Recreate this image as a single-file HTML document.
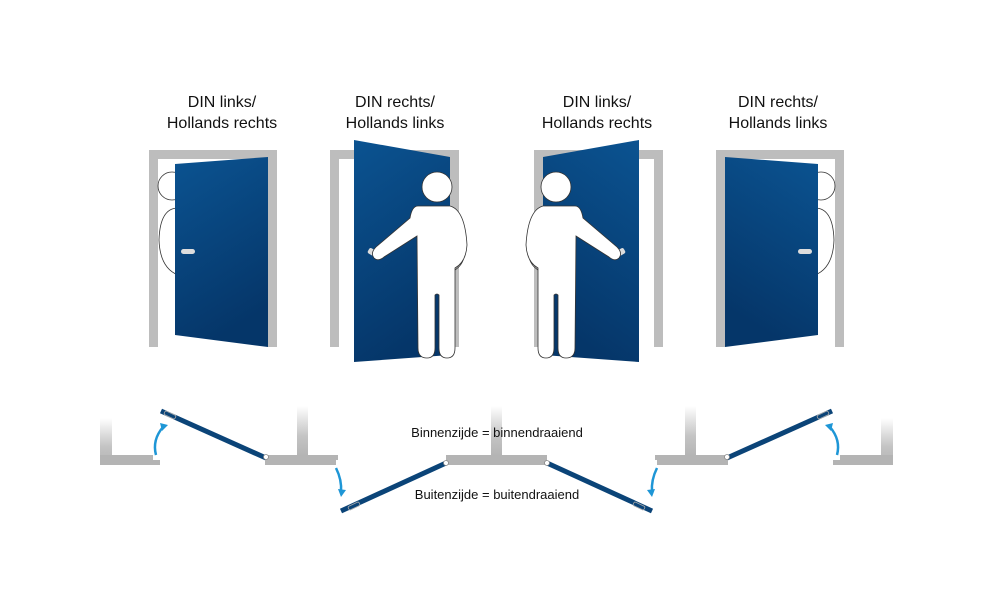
<!DOCTYPE html>
<html><head><meta charset="utf-8"><style>
html,body{margin:0;padding:0;background:#fff;}
svg{display:block;}
text{font-family:"Liberation Sans",sans-serif;fill:#111;}
</style></head><body>
<svg width="992" height="595" viewBox="0 0 992 595" xmlns="http://www.w3.org/2000/svg">
<defs>
<linearGradient id="dg" x1="0" y1="0" x2="0.3" y2="1">
<stop offset="0" stop-color="#0b5391"/><stop offset="1" stop-color="#053669"/>
</linearGradient>
<linearGradient id="wv" x1="0" y1="0" x2="0" y2="1">
<stop offset="0" stop-color="#fff"/><stop offset="0.6" stop-color="#c4c4c4"/><stop offset="1" stop-color="#b4b4b4"/>
</linearGradient>
<g id="half">
<!-- door 1 -->
<path d="M149,150 H277 V347 H268 V159 H158 V347 H149 Z" fill="#bdbdbd"/>
<circle cx="172" cy="186" r="14" fill="#fff" stroke="#333" stroke-width="0.8"/>
<path d="M178,208 Q160,208 159,240 Q160,268 178,275" fill="#fff" stroke="#333" stroke-width="0.8"/>
<polygon points="175,164 268,157 268,347 175,335" fill="url(#dg)"/>
<rect x="181" y="249" width="14" height="5" rx="2.5" fill="#ddd"/>
<!-- door 2 -->
<path d="M330,150 H459 V347 H450 V159 H339 V347 H330 Z" fill="#bdbdbd"/>
<path d="M460,240 Q470,260 455,270" fill="none" stroke="#333" stroke-width="0.8"/>
<polygon points="354,140 450,157 450,355 354,362" fill="url(#dg)"/>
<rect x="368" y="249" width="8" height="6" rx="2" fill="#ddd" transform="rotate(30 372 252)"/>
<circle cx="437" cy="187" r="15" fill="#fff" stroke="#333" stroke-width="0.8"/>
<path d="M418,206 Q412,206 410,218 L376,247 Q370,253 374,258 Q378,262 384,257 L417,236 L418,348 Q418,358 427,358 Q435,358 435,348 L435,295 Q437,293 439,295 L439,348 Q439,358 447,358 Q455,358 455,348 L455,268 Q466,262 467,245 Q465,210 450,206 Z" fill="#fff" stroke="#333" stroke-width="0.8"/>
<!-- plan left -->
<rect x="100" y="418" width="12" height="47" fill="url(#wv)"/>
<path d="M100,455 H153 V460 H160 V465 H100 Z" fill="#b4b4b4"/>
<rect x="297" y="406" width="11" height="50" fill="url(#wv)"/>
<path d="M265,455 H338 V460 H336 V465 H265 Z" fill="#b4b4b4"/>
<line x1="161" y1="411" x2="266" y2="458" stroke="#0b4478" stroke-width="5"/>
<circle cx="266" cy="457" r="2.5" fill="#fff" stroke="#888" stroke-width="0.8"/>
<rect x="168" y="409" width="4" height="12" rx="1.5" fill="none" stroke="#aaa" stroke-width="0.8" transform="rotate(-65 170 415)"/>
<path d="M156,455 Q152,440 163,427" fill="none" stroke="#1e96d6" stroke-width="2.5"/>
<polygon points="160,423 168,425 162,431" fill="#1e96d6"/>
<path d="M336,468 Q342,480 341,492" fill="none" stroke="#1e96d6" stroke-width="2.5"/>
<polygon points="338,489 346,490 341,497" fill="#1e96d6"/>
<rect x="446" y="455" width="51" height="10" fill="#b4b4b4"/>
<rect x="491" y="406" width="11" height="50" fill="url(#wv)"/>
<line x1="446" y1="463" x2="341" y2="511" stroke="#0b4478" stroke-width="5"/>
<circle cx="446" cy="463" r="2.5" fill="#fff" stroke="#888" stroke-width="0.8"/>
<rect x="352" y="500" width="4" height="12" rx="1.5" fill="none" stroke="#aaa" stroke-width="0.8" transform="rotate(65 354 506)"/>
</g>
</defs>
<use href="#half"/>
<use href="#half" transform="translate(993,0) scale(-1,1)"/>
<g font-size="16" text-anchor="middle">
<text x="222" y="107">DIN links/</text><text x="222" y="128">Hollands rechts</text>
<text x="395" y="107">DIN rechts/</text><text x="395" y="128">Hollands links</text>
<text x="597" y="107">DIN links/</text><text x="597" y="128">Hollands rechts</text>
<text x="778" y="107">DIN rechts/</text><text x="778" y="128">Hollands links</text>
</g>
<g font-size="13" text-anchor="middle">
<text x="497" y="437">Binnenzijde = binnendraaiend</text>
<text x="497" y="499">Buitenzijde = buitendraaiend</text>
</g>
</svg>
</body></html>
